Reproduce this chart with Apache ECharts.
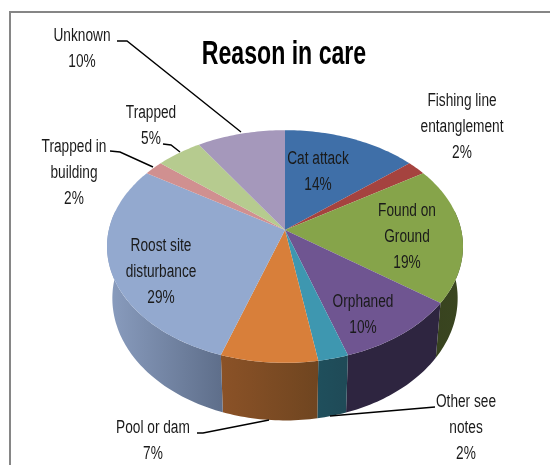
<!DOCTYPE html>
<html><head><meta charset="utf-8">
<style>html,body{margin:0;padding:0;background:#fff}#c{width:550px;height:465px;filter:blur(0.4px)}</style>
<script src="https://cdn.jsdelivr.net/npm/echarts@6/dist/echarts.min.js"></script>
</head><body><div id="c"></div>
<script>
const chartTitle = 'Reason in care';
const categories = ['Cat attack','Fishing line entanglement','Found on Ground','Orphaned','Other see notes','Pool or dam','Roost site disturbance','Trapped in building','Trapped','Unknown'];
const sliceValues = [14,2,19,10,2.4,7.7,28.9,2,4.8,9.2];
const percentLabels = ['14%','2%','19%','10%','2%','7%','29%','2%','5%','10%'];
const labelLines = [['Cat attack'],['Fishing line','entanglement'],['Found on','Ground'],['Orphaned'],['Other see','notes'],['Pool or dam'],['Roost site','disturbance'],['Trapped in','building'],['Trapped'],['Unknown']];
const topColors = ['#3F6FA8','#A5433F','#86A44A','#6F5591','#3E97B0','#D87F3A','#93A9CF','#D09090','#B6CB8F','#A598BB'];
const sideLeft  = ['#2A4A70','#6E2D2A','#38431F','#2E2540','#1F4F5C','#8B5227','#8A9DBF','#8A6060','#798763','#6E657C'];
const sideRight = ['#2A4A70','#6E2D2A','#3A4620','#2E2540','#1F4A57','#6F4520','#5E6E8A','#8A6060','#798763','#6E657C'];
const labelCenters = [[318,172],[462,127],[407,237],[363,315],[466,428],[153,441],[161,272],[74,173],[151,126],[82,49]];
const leaders = [
  [],[],[],[],
  [[435,407],[330,416]],
  [[197,433],[203,433],[269,420]],
  [],
  [[110,151],[120,152],[153,167]],
  [[163,144],[171,145],[180,152]],
  [[117,41],[127,41],[241,132]]
];
const view = {cx:285, cy:230, sx:176.2, sy:114, k:0.1416, sideDy:51, sideSx:0.97, sideSy:1.05};
function project(a, bottom){
  const x=Math.sin(a), y=-Math.cos(a), w=1-view.k*y;
  const X=view.sx*x/w, Y=view.sy*y/w;
  return bottom ? [view.cx+X*view.sideSx, view.cy+Y*view.sideSy+view.sideDy] : [view.cx+X, view.cy+Y];
}
const total = sliceValues.reduce((a,b)=>a+b,0);
let acc=0;
const rows = sliceValues.map((v,i)=>{const s=acc; acc+=v; return [i,s/total*2*Math.PI,acc/total*2*Math.PI];});
function arc(a0,a1,bottom){
  const n=Math.max(2,Math.ceil((a1-a0)/0.02)),p=[];
  for(let j=0;j<=n;j++)p.push(project(a0+(a1-a0)*j/n,bottom));
  return p;
}
const LO=80*Math.PI/180, HI=280*Math.PI/180;
const font='"Liberation Sans",sans-serif';
const chart=echarts.init(document.getElementById('c'),null,{renderer:'canvas'});
chart.setOption({
  animation:false,
  backgroundColor:'#fff',
  graphic:[
    {type:'polyline',shape:{points:[[10,465],[10,12],[550,12]]},style:{stroke:'#868686',lineWidth:2,fill:null},silent:true},
    {type:'text',x:284,y:55,scaleX:0.7,z:5,silent:true,style:{text:chartTitle,fontFamily:font,fontSize:33,fontWeight:'bold',fill:'#000',align:'center',verticalAlign:'middle'}}
  ],
  xAxis:{show:false},yAxis:{show:false},
  series:[
   {type:'custom',coordinateSystem:'none',silent:true,z:1,data:rows,renderItem(p,api){
      const i=api.value(0),a0=Math.max(api.value(1),LO),a1=Math.min(api.value(2),HI);
      if(a1<=a0)return {type:'group',children:[]};
      const pts=arc(a0,a1,false).concat(arc(a0,a1,true).reverse());
      return {type:'polygon',shape:{points:pts},style:{fill:new echarts.graphic.LinearGradient(0,0,1,0,[{offset:0,color:sideLeft[i]},{offset:1,color:sideRight[i]}])}};
   }},
   {type:'custom',coordinateSystem:'none',silent:true,z:2,data:rows,renderItem(p,api){
      const i=api.value(0);
      const pts=[[view.cx,view.cy]].concat(arc(api.value(1),api.value(2),false));
      return {type:'polygon',shape:{points:pts},style:{fill:topColors[i]}};
   }},
   {type:'custom',coordinateSystem:'none',silent:true,z:3,data:rows,renderItem(p,api){
      const i=api.value(0);
      return {type:'group',children:[
        {type:'polyline',shape:{points:leaders[i]},style:{stroke:'#000',lineWidth:1.4,fill:null}},
        {type:'text',x:labelCenters[i][0],y:labelCenters[i][1],scaleX:0.76,style:{
          text:labelLines[i].concat(percentLabels[i]).join('\n'),
          fontFamily:font,fontSize:18,lineHeight:26,fill:'#1a1a1a',align:'center',verticalAlign:'middle'}}
      ]};
   }}
  ]
});
</script></body></html>
